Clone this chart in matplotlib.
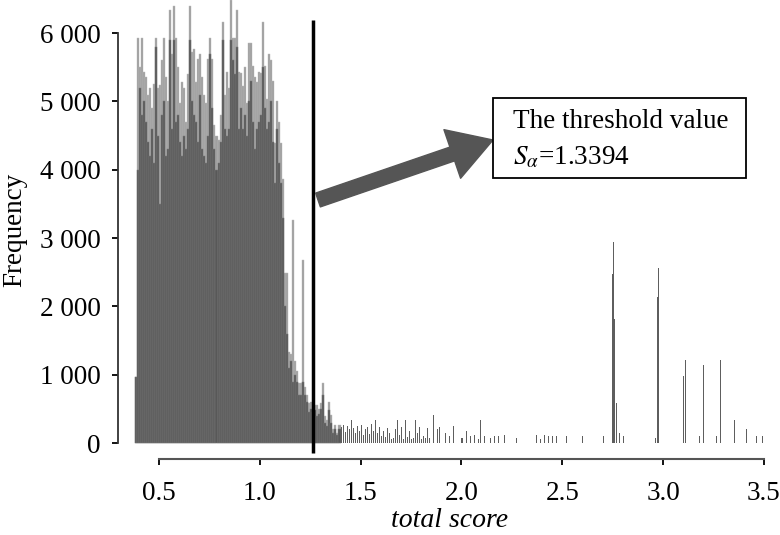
import numpy as np
import matplotlib
matplotlib.use("Agg")
from matplotlib import pyplot as plt
from matplotlib.patches import Rectangle

plt.rcParams['font.family'] = ['Liberation Serif', 'DejaVu Serif']
plt.rcParams['mathtext.fontset'] = 'stix'

# histogram bins of width 0.01 starting at 0.38 (dense part)
bin_start = 0.38
bin_width = 0.01
light_counts = [
    960, 5920, 5500, 5920, 5430, 5360, 5100, 5190, 4900, 5250,
    5920, 5190, 5240, 5600, 5920, 5360, 5000, 6330, 5700, 6400,
    5920, 5500, 4980, 5280, 5200, 4700, 5400, 6400, 5720, 5770,
    5280, 5620, 5690, 5360, 5100, 4980, 5620, 5920, 5620, 4660,
    4490, 4440, 4800, 6160, 5090, 5430, 5200, 6480, 5920, 5920,
    6330, 5430, 5410, 5220, 5500, 4980, 5860, 5860, 5520, 5360,
    5280, 5430, 5420, 6160, 5520, 5040, 5700, 5600, 5300, 4390,
    5000, 4700, 4390, 3870, 2490, 2490, 1330, 1300, 3270, 1200,
    1050, 875, 875, 2680, 820, 700, 585, 600, 585, 560,
    550, 500, 585, 875, 400, 330, 600, 410, 200, 260,
    150, 260,
]
dark_counts = [
    960, 4000, 5200, 4800, 5000, 4700, 4400, 4200, 4600, 4100,
    5800, 4500, 3500, 4800, 5000, 4200, 4300, 5900, 4600, 5900,
    4700, 4800, 4400, 4200, 4500, 4300, 4600, 5900, 5000, 4800,
    4700, 4400, 5100, 4300, 4200, 4100, 4500, 5700, 4900, 4300,
    4000, 4100, 4400, 5900, 4600, 4500, 4600, 5900, 5600, 5400,
    5800, 4600, 4900, 4600, 4800, 4500, 5000, 5300, 4700, 4300,
    4600, 4700, 4800, 5500, 4900, 4600, 4700, 5000, 4400, 3800,
    4600, 4100, 3800, 3300, 2000, 1600, 1100, 1200, 900, 1000,
    900, 700, 700, 900, 700, 600, 450, 500, 450, 480,
    400, 420, 500, 700, 300, 250, 480, 300, 150, 200,
    120, 200,
]

# sparse tail
tail_score = [
    1.40, 1.41, 1.42, 1.43, 1.44, 1.45, 1.46, 1.47, 1.48, 1.49,
    1.50, 1.51, 1.52, 1.53, 1.54, 1.55, 1.56, 1.57, 1.58, 1.59,
    1.60, 1.61, 1.62, 1.63, 1.64, 1.65, 1.66, 1.67, 1.68, 1.69,
    1.70, 1.71, 1.72, 1.73, 1.74, 1.75, 1.76, 1.77, 1.78, 1.79,
    1.80, 1.81, 1.82, 1.83, 1.84, 1.86, 1.88, 1.89, 1.92, 1.94,
    1.96, 2.00, 2.02, 2.04, 2.06, 2.08, 2.09, 2.11, 2.14, 2.16,
    2.18, 2.21, 2.27, 2.37, 2.39, 2.41, 2.43, 2.45, 2.47, 2.52,
    2.60, 2.70, 2.745, 2.752, 2.758, 2.765, 2.78, 2.80, 2.96, 2.968,
    2.975, 3.10, 3.106, 3.18, 3.20, 3.26, 3.28, 3.35, 3.41, 3.46,
    3.49,
]
tail_count = [
    230, 260, 160, 250, 200, 340, 220, 150, 250, 180,
    260, 120, 200, 230, 130, 280, 180, 340, 150, 230,
    100, 180, 90, 220, 150, 60, 80, 200, 340, 120,
    240, 60, 330, 90, 180, 60, 80, 340, 150, 230,
    60, 100, 80, 220, 80, 410, 200, 240, 150, 100,
    250, 80, 170, 100, 110, 60, 340, 100, 80, 100,
    100, 110, 80, 110, 60, 110, 100, 100, 100, 100,
    100, 100, 2480, 2945, 1820, 590, 150, 100, 80, 2130,
    2560, 975, 1215, 100, 1140, 100, 1215, 340, 200, 100,
    100,
]

threshold_x = 1.262
yticks = [0, 1000, 2000, 3000, 4000, 5000, 6000]
ytick_labels = ['0', '1 000', '2 000', '3 000', '4 000', '5 000', '6 000']
xticks = [0.5, 1.0, 1.5, 2.0, 2.5, 3.0, 3.5]

fig = plt.figure(figsize=(7.8, 5.35), dpi=100)
ax = fig.add_axes([130 / 780, 76 / 535, 640 / 780, 459 / 535])

x_main = bin_start + bin_width * np.arange(len(light_counts))
ax.bar(x_main, light_counts, width=bin_width, align='edge', color='#a0a0a0',
       edgecolor='#b8b8b8', linewidth=0.3)
ax.bar(x_main, dark_counts, width=bin_width, align='edge', color='#585858',
       edgecolor='#7a7a7a', linewidth=0.35)
ax.bar(tail_score, tail_count, width=0.005, align='edge', color='#5e5e5e', linewidth=0)

ax.plot([threshold_x, threshold_x], [6190, -150], color='black', lw=2.5, clip_on=False,
        solid_capstyle='butt')

ax.set_xlim(0.356, 3.53)
ax.set_ylim(-234, 6483)

for s in ['top', 'right']:
    ax.spines[s].set_visible(False)
ax.spines['left'].set_position(('outward', 8.6))
ax.spines['left'].set_bounds(0, 6000)
ax.spines['bottom'].set_bounds(0.5, 3.5)
ax.spines['left'].set_color('#333333')
ax.spines['bottom'].set_color('#555555')
ax.spines['left'].set_linewidth(1.3)
ax.spines['bottom'].set_linewidth(1.5)

ax.set_yticks(yticks)
ax.set_yticklabels(ytick_labels)
ax.set_xticks(xticks)
ax.set_xticklabels([f'{v:.1f}' for v in xticks])
ax.tick_params(axis='both', labelsize=19.5, length=4.5, width=1.3, color='black')
ax.tick_params(axis='y', pad=8)
ax.tick_params(axis='x', pad=11)

ax.set_ylabel('Frequency', fontsize=19.5, labelpad=9)
ax.set_xlabel('total score', fontsize=20, style='italic', labelpad=2)

# arrow pointing to the text box (figure pixels)
ax.annotate('', xy=(493, 535 - 140), xytext=(318, 535 - 200),
            xycoords='figure pixels', textcoords='figure pixels',
            arrowprops=dict(arrowstyle='simple,head_width=37,head_length=31,tail_width=10.5',
                            mutation_scale=1, color='#555555', shrinkA=0, shrinkB=0))

fig.add_artist(Rectangle((493 / 780, (535 - 178) / 535), 253 / 780, 80 / 535,
                         transform=fig.transFigure, facecolor='white',
                         edgecolor='black', linewidth=1.3))
fig.text(513 / 780, (535 - 122) / 535, 'The threshold value', fontsize=19.5, va='center')
fig.text(513 / 780, (535 - 158) / 535, r'$S_{\alpha}$=1.3394', fontsize=19.5, va='center')

fig.savefig('out.png', dpi=100)
